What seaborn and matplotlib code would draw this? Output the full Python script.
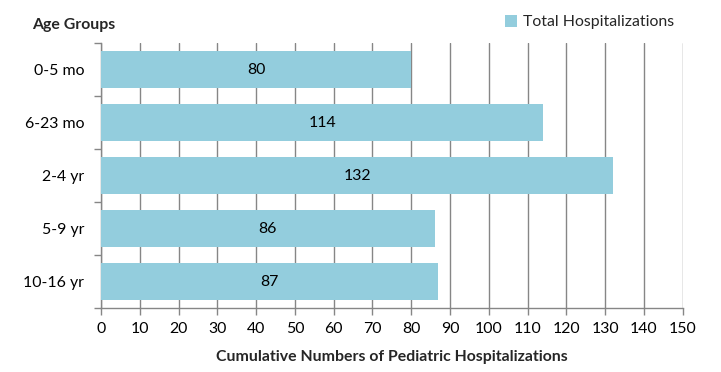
import numpy as np
import pandas as pd
import matplotlib
matplotlib.use("Agg")
import matplotlib.pyplot as plt
from matplotlib.patches import Patch
import seaborn as sns

# data
age_groups = ["0-5 mo", "6-23 mo", "2-4 yr", "5-9 yr", "10-16 yr"]
hospitalizations = [80, 114, 132, 86, 87]
x_ticks = list(range(0, 151, 10))

BAR_COLOR = "#93CDDD"
GRID_COLOR = "#868686"
FS = 11.4

sns.set_theme(style="white")
plt.rcParams["font.family"] = ["Lato", "DejaVu Sans"]

df = pd.DataFrame({"age": age_groups, "count": hospitalizations})

fig = plt.figure(figsize=(7.21, 3.72), dpi=100)
ax = fig.add_axes([0.140, 0.172, 0.807, 0.712])

sns.barplot(data=df, y="age", x="count", order=age_groups, color=BAR_COLOR,
            width=0.7, saturation=1, linewidth=0, ax=ax, zorder=3)

# value labels in the middle of each bar
for i, v in enumerate(hospitalizations):
    ax.text(v / 2, i, str(v), ha="center", va="center", fontsize=FS,
            color="black", zorder=4)

ax.set_xlim(0, 150)
ax.set_ylim(len(age_groups) - 0.5, -0.5)
ax.set_xticks(x_ticks)
ax.set_xticklabels([str(t) for t in x_ticks], fontsize=FS, color="black")
ax.set_yticklabels(age_groups, fontsize=FS, color="black")

# gridlines on every x tick
ax.xaxis.grid(True, color=GRID_COLOR, linewidth=1.0, zorder=0)
ax.yaxis.grid(False)

for side in ["top", "right"]:
    ax.spines[side].set_visible(False)
ax.spines["left"].set_color(GRID_COLOR)
ax.spines["bottom"].set_color(GRID_COLOR)
ax.spines["left"].set_linewidth(1.0)
ax.spines["bottom"].set_linewidth(1.0)

ax.tick_params(axis="x", direction="out", length=5, width=1.0, color=GRID_COLOR,
               bottom=True, pad=5)
ax.tick_params(axis="y", which="major", length=0, pad=12)
ax.set_yticks(np.arange(-0.5, len(age_groups), 1.0), minor=True)
ax.tick_params(axis="y", which="minor", direction="out", length=5, width=1.0,
               color=GRID_COLOR, left=True)

ax.set_ylabel("")
ax.set_xlabel("Cumulative Numbers of Pediatric Hospitalizations",
              fontsize=FS, fontweight="bold", labelpad=10)

fig.text(0.045, 0.932, "Age Groups", fontsize=FS, fontweight="bold",
         ha="left", va="center")

handles = [Patch(facecolor=BAR_COLOR, edgecolor="none", label="Total Hospitalizations")]
fig.legend(handles=handles, loc="center right", bbox_to_anchor=(0.955, 0.94),
           frameon=False, fontsize=FS, handlelength=0.75, handleheight=0.75,
           handletextpad=0.4)

fig.savefig("out.png", dpi=100)
